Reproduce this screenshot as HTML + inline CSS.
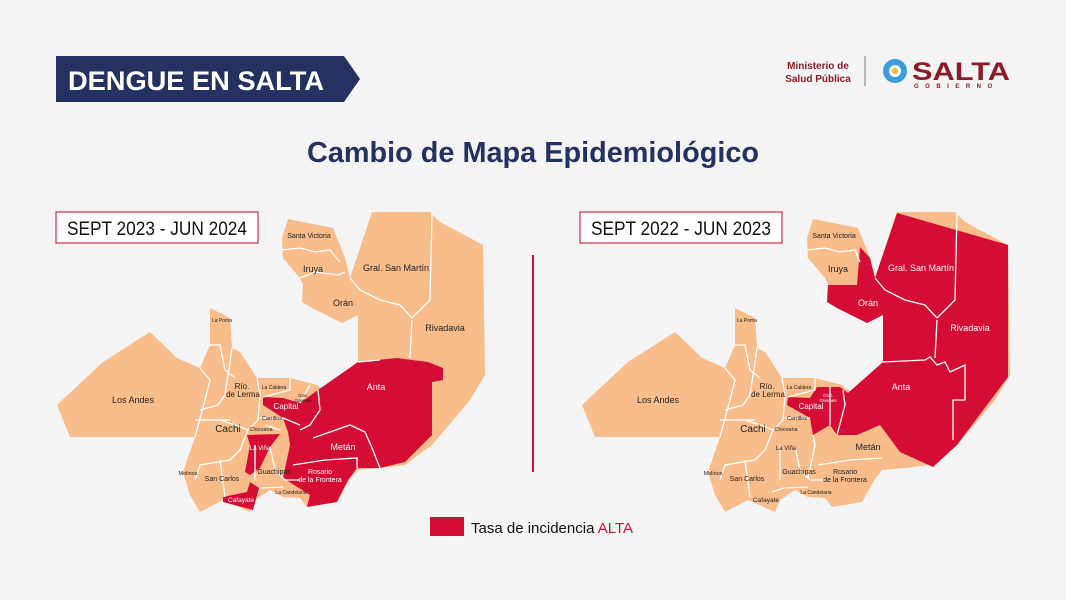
<!DOCTYPE html>
<html><head><meta charset="utf-8"><style>
html,body{margin:0;padding:0;background:#f4f4f4;}
svg{display:block;font-family:"Liberation Sans",sans-serif;}
</style></head><body>
<svg width="1066" height="600" viewBox="0 0 1066 600" xmlns="http://www.w3.org/2000/svg">
<rect width="1066" height="600" fill="#f4f4f4"/>
<polygon points="56,56 344,56 360,79 344,102 56,102" fill="#253161"/>
<text x="68" y="90" fill="#fff" font-size="27" font-weight="bold" textLength="256" lengthAdjust="spacingAndGlyphs">DENGUE EN SALTA</text>
<text x="818" y="69" fill="#8b1a2a" font-size="10" text-anchor="middle" font-weight="bold">Ministerio de</text>
<text x="818" y="82" fill="#8b1a2a" font-size="10" text-anchor="middle" font-weight="bold">Salud Pública</text>
<line x1="865" y1="56" x2="865" y2="86" stroke="#777" stroke-width="1"/>
<circle cx="895" cy="71" r="12" fill="#3a9fd8"/><circle cx="895" cy="71" r="6" fill="#fff"/><circle cx="895" cy="71" r="3" fill="#f3b32e"/>
<text x="912" y="80" fill="#8b1a2a" font-size="25" font-weight="bold" textLength="98" lengthAdjust="spacingAndGlyphs">SALTA</text>
<text x="914" y="88" fill="#8b1a2a" font-size="6" font-weight="bold" letter-spacing="6.5">GOBIERNO</text>
<text x="533" y="162" fill="#253161" font-size="29" font-weight="bold" text-anchor="middle" textLength="452" lengthAdjust="spacingAndGlyphs">Cambio de Mapa Epidemiológico</text>
<line x1="533" y1="255" x2="533" y2="472" stroke="#d50c33" stroke-width="2"/>
<rect x="56" y="212" width="202" height="31" fill="#fff" stroke="#c8304e" stroke-width="1.2"/>
<text x="157" y="235" font-size="19" text-anchor="middle" fill="#111" textLength="180" lengthAdjust="spacingAndGlyphs">SEPT 2023 - JUN 2024</text>
<rect x="580" y="212" width="202" height="31" fill="#fff" stroke="#c8304e" stroke-width="1.2"/>
<text x="681" y="235" font-size="19" text-anchor="middle" fill="#111" textLength="180" lengthAdjust="spacingAndGlyphs">SEPT 2022 - JUN 2023</text>
<rect x="430" y="517" width="34" height="19" fill="#d50c33"/>
<text x="471" y="533" font-size="15" fill="#111">Tasa de incidencia <tspan fill="#d50c33">ALTA</tspan></text>

<!-- LEFT MAP -->
<g>
<polygon fill="#f9bc8b" points="288,219 333,228 345,258 350,278 372,212 430,212 440,222 483,245 485,375 470,400 432,445 405,465 380,468 357,470 348,482 337,502 307,507 300,498 283,497 270,490 255,500 250,512 223,500 200,512 190,495 183,472 195,437 70,437 57,405 103,362 150,332 177,358 200,368 210,345 210,308 230,318 232,348 240,352 257,378 290,378 317,385 325,392 358,362 358,315 342,323 312,308 302,302 303,285 300,278 283,258 282,238"/>
<polygon fill="#d50c33" points="263,397 283,398 300,403 318,390 358,362 397,358 412,360 428,362 443,368 443,380 432,382 432,435 405,462 380,468 357,468 348,480 337,502 307,507 310,495 283,478 290,445 288,432 283,418 263,405"/>
<polygon fill="#d50c33" points="247,435 280,434 270,447 260,468 250,475 245,472 250,445"/>
<polygon fill="#d50c33" points="223,497 247,492 250,482 259,488 253,510 223,502"/>
<g fill="none" stroke="#fff" stroke-width="1.3">
<path d="M282,250 L300,248 L315,252 L330,250 L340,262 M300,278 L315,272 L338,275 L345,272 M350,278 L360,290 L380,300 L400,305 L412,318 M412,320 L410,358 M432,212 L430,300 L412,318 M358,362 L380,360"/>
<path d="M200,368 L210,380 L205,400 L195,437 M210,345 L220,345 L225,370 L235,378 M232,348 L230,362 L225,395 L218,405 L200,410 M257,378 L260,395 L258,420 L248,430 L235,425 L220,420 M195,420 L230,420 M290,378 L290,390 L263,397 M300,403 L310,385 M283,418 L260,418 M265,425 L280,430 M248,430 L240,450 L230,460 L200,465 L195,480 M220,460 L225,497 M255,445 L255,480 M270,447 L275,470 L285,480 L300,480 M260,488 L283,487"/>
<path d="M313,438 L330,432 L350,425 L365,432 L372,448 L380,468 M293,465 L325,460 L357,458 L357,468 M318,390 L320,410 L310,425 L300,430 M283,418 L300,425"/>
</g>
<g font-size="9" fill="#222" text-anchor="middle">
<text x="309" y="238" font-size="7">Santa Victoria</text>
<text x="313" y="272">Iruya</text>
<text x="396" y="271">Gral. San Martín</text>
<text x="343" y="306">Orán</text>
<text x="445" y="331">Rivadavia</text>
<text x="133" y="403">Los Andes</text>
<text x="222" y="322" font-size="5">La Poma</text>
<text x="242" y="389" font-size="8">Río.</text>
<text x="243" y="397" font-size="8">de Lerma</text>
<text x="274" y="389" font-size="5">La Caldera</text>
<text x="303" y="397" font-size="4.5">Gral.</text>
<text x="303" y="402" font-size="4.5">Güemes</text>
<text x="228" y="432" font-size="10">Cachi</text>
<text x="272" y="420" font-size="5.5">Carrillos</text>
<text x="261" y="431" font-size="5.5">Chicoana</text>
<text x="188" y="475" font-size="5.5">Molinos</text>
<text x="222" y="481" font-size="7">San Carlos</text>
<text x="274" y="474" font-size="7">Guachipas</text>
<text x="291" y="494" font-size="5">La Candelaria</text>
</g>
<g font-size="9" fill="#fff" text-anchor="middle">
<text x="376" y="390">Anta</text>
<text x="343" y="450">Metán</text>
<text x="286" y="409" font-size="8">Capital</text>
<text x="260" y="450" font-size="6">La Viña</text>
<text x="320" y="474" font-size="7">Rosario</text>
<text x="320" y="482" font-size="7">de la Frontera</text>
<text x="241" y="502" font-size="6.5">Cafayate</text>
</g>
</g>

<!-- RIGHT MAP -->
<g transform="translate(525,0)">
<polygon fill="#f9bc8b" points="288,219 333,228 345,258 350,278 372,212 430,212 440,222 483,245 485,375 470,400 432,445 405,465 380,468 357,470 348,482 337,502 307,507 300,498 283,497 270,490 255,500 250,512 223,500 200,512 190,495 183,472 195,437 70,437 57,405 103,362 150,332 177,358 200,368 210,345 210,308 230,318 232,348 240,352 257,378 290,378 317,385 325,392 358,362 358,315 342,323 312,308 302,302 303,285 300,278 283,258 282,238"/>
<polygon fill="#d50c33" points="372,213 483,245 483,377 432,445 408,467 375,452 355,425 332,435 312,435 305,425 288,435 285,418 262,405 263,397 285,398 292,387 315,387 323,393 358,362 358,315 342,323 312,308 302,302 303,285 332,285 335,247 345,258 350,278"/>
<g fill="none" stroke="#fff" stroke-width="1.3">
<path d="M282,250 L300,248 L315,252 L330,250 L335,262 M350,278 L360,290 L380,300 L400,305 L412,318 M412,320 L410,358 M432,212 L430,300 L412,318 M358,362 L400,360 L405,357 L412,365 L420,362 L425,372 L440,365 L440,400 L428,400 L428,440"/>
<path d="M200,368 L210,380 L205,400 L195,437 M210,345 L220,345 L225,370 L235,378 M232,348 L230,362 L225,395 L218,405 L200,410 M257,378 L260,395 L258,420 L248,430 L235,425 L220,420 M195,420 L230,420 M290,378 L290,390 L263,397 M285,418 L260,418 M248,430 L240,450 L230,460 L200,465 L195,480 M220,460 L225,497 M255,445 L255,480 M270,447 L275,470 L285,480 L300,480 M260,488 L283,487 M288,435 L290,445 L283,478 M293,465 L325,460 L357,458 M247,492 L259,488 M305,387 L305,425 M318,390 L320,405 L312,435"/>
</g>
<g font-size="9" fill="#222" text-anchor="middle">
<text x="309" y="238" font-size="7">Santa Victoria</text>
<text x="313" y="272">Iruya</text>
<text x="133" y="403">Los Andes</text>
<text x="222" y="322" font-size="5">La Poma</text>
<text x="242" y="389" font-size="8">Río.</text>
<text x="243" y="397" font-size="8">de Lerma</text>
<text x="274" y="389" font-size="5">La Caldera</text>
<text x="228" y="432" font-size="10">Cachi</text>
<text x="272" y="420" font-size="5.5">Carrillos</text>
<text x="261" y="431" font-size="5.5">Chicoana</text>
<text x="261" y="450" font-size="6">La Viña</text>
<text x="343" y="450">Metán</text>
<text x="188" y="475" font-size="5.5">Molinos</text>
<text x="222" y="481" font-size="7">San Carlos</text>
<text x="274" y="474" font-size="7">Guachipas</text>
<text x="320" y="474" font-size="7">Rosario</text>
<text x="320" y="482" font-size="7">de la Frontera</text>
<text x="291" y="494" font-size="5">La Candelaria</text>
<text x="241" y="502" font-size="6.5">Cafayate</text>
</g>
<g font-size="9" fill="#fff" text-anchor="middle">
<text x="396" y="271">Gral. San Martín</text>
<text x="343" y="306">Orán</text>
<text x="445" y="331">Rivadavia</text>
<text x="376" y="390">Anta</text>
<text x="286" y="409" font-size="8">Capital</text>
<text x="303" y="397" font-size="4.5">Gral.</text>
<text x="303" y="402" font-size="4.5">Güemes</text>
</g>
</g>
</svg>
</body></html>
